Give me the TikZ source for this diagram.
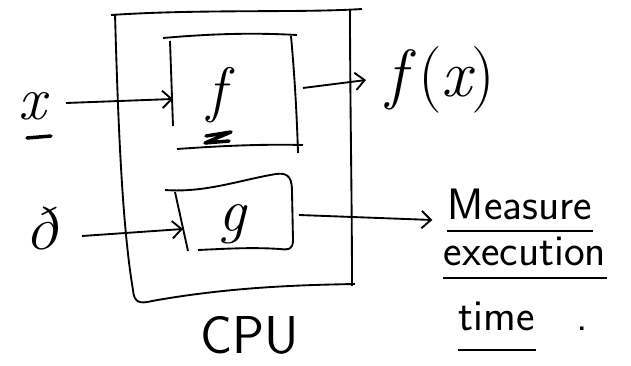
\documentclass[tikz,border=0pt]{standalone}
\usepackage{fontspec}
\usetikzlibrary{arrows.meta}

\tikzset{every picture/.style={line width=1.4pt}}
\tikzset{
  flow/.style={-{Straight Barb[length=7pt,width=13pt,line width=1.4pt]}},
  big/.style={inner sep=0pt,font=\itshape\fontsize{46}{50}\selectfont},
  word/.style={inner sep=0pt,anchor=base west,font=\sffamily\fontsize{33}{36}\selectfont},
  scribble/.style={line width=2.6pt,line cap=round,line join=round}
}

\begin{document}
\begin{tikzpicture}[x=0.75pt,y=0.75pt,yscale=-1,xscale=1]
  \useasboundingbox (0,0) rectangle (631,366);

  %CPU box
  \draw (111,15) .. controls (200,9) and (300,13) .. (362,9) ;
  \draw (115,14) .. controls (118,120) and (122,225) .. (133,290) .. controls (134,303) and (140,304) .. (152,301) .. controls (230,287) and (300,285) .. (355,284) ;
  \draw (350,10) .. controls (350,100) and (352,200) .. (352,286) ;
  \node (cpu) [anchor=base,inner sep=0pt,font=\sffamily\fontsize{40}{44}\selectfont] at (250,353) {CPU};

  %box for f
  \draw (163,38) .. controls (220,33) and (260,33) .. (297,35) ;
  \draw (170,41) -- (173,126) ;
  \draw (291,36) .. controls (295,80) and (297,120) .. (298,153) ;
  \draw (177,149) .. controls (220,146) and (260,144) .. (303,145) ;
  \node (f) [big] at (217,95) {f};
  \draw [scribble] (206,136) -- (231,132) -- (205,143) -- (229,141) ;

  %box for g
  \draw (165,190) .. controls (205,193) and (240,180) .. (276,174) .. controls (290,172) and (292,180) .. (292,192) -- (293,240) .. controls (293,250) and (288,250) .. (280,249) .. controls (250,247) and (222,249) .. (198,250) ;
  \draw (175,192) -- (188,251) ;
  \node (g) [big] at (232,224) {g};

  %ports on the boxes
  \coordinate (fin) at (173,99) ;
  \coordinate (fout) at (303,88) ;
  \coordinate (gin) at (183,229) ;
  \coordinate (gout) at (299,215) ;

  %inputs
  \node (x) [big] at (32,106) {x};
  \draw [scribble] (27,138) -- (51,136) ;
  \node (eth) [big] at (42,228) {ð};
  \draw [flow] (66,103) -- (fin) ;
  \draw [flow] (82,236) -- (gin) ;

  %outputs
  \node (fx) [big,anchor=west,font=\itshape\fontsize{50}{54}\selectfont] at (386,80) {f\,\upshape(\itshape x\upshape)};
  \draw [flow] (fout) -- ([xshift=-15pt]fx.west) ;

  \node (measure) [word] at (447,220) {Measure};
  \node (execution) [word] at (443,266) {execution};
  \node (time) [word] at (458,330) {time};
  \node (stop) [word] at (576,330) {.};
  \draw [flow] (gout) -- ([xshift=-11pt]measure.base west) ;
  \draw ([yshift=8pt]measure.base west) -- ([yshift=8pt]measure.base east) ;
  \draw ([yshift=9pt]execution.base west) -- ([yshift=9pt]execution.base east) ;
  \draw ([yshift=15pt]time.base west) -- ([yshift=15pt]time.base east) ;
\end{tikzpicture}
\end{document}
